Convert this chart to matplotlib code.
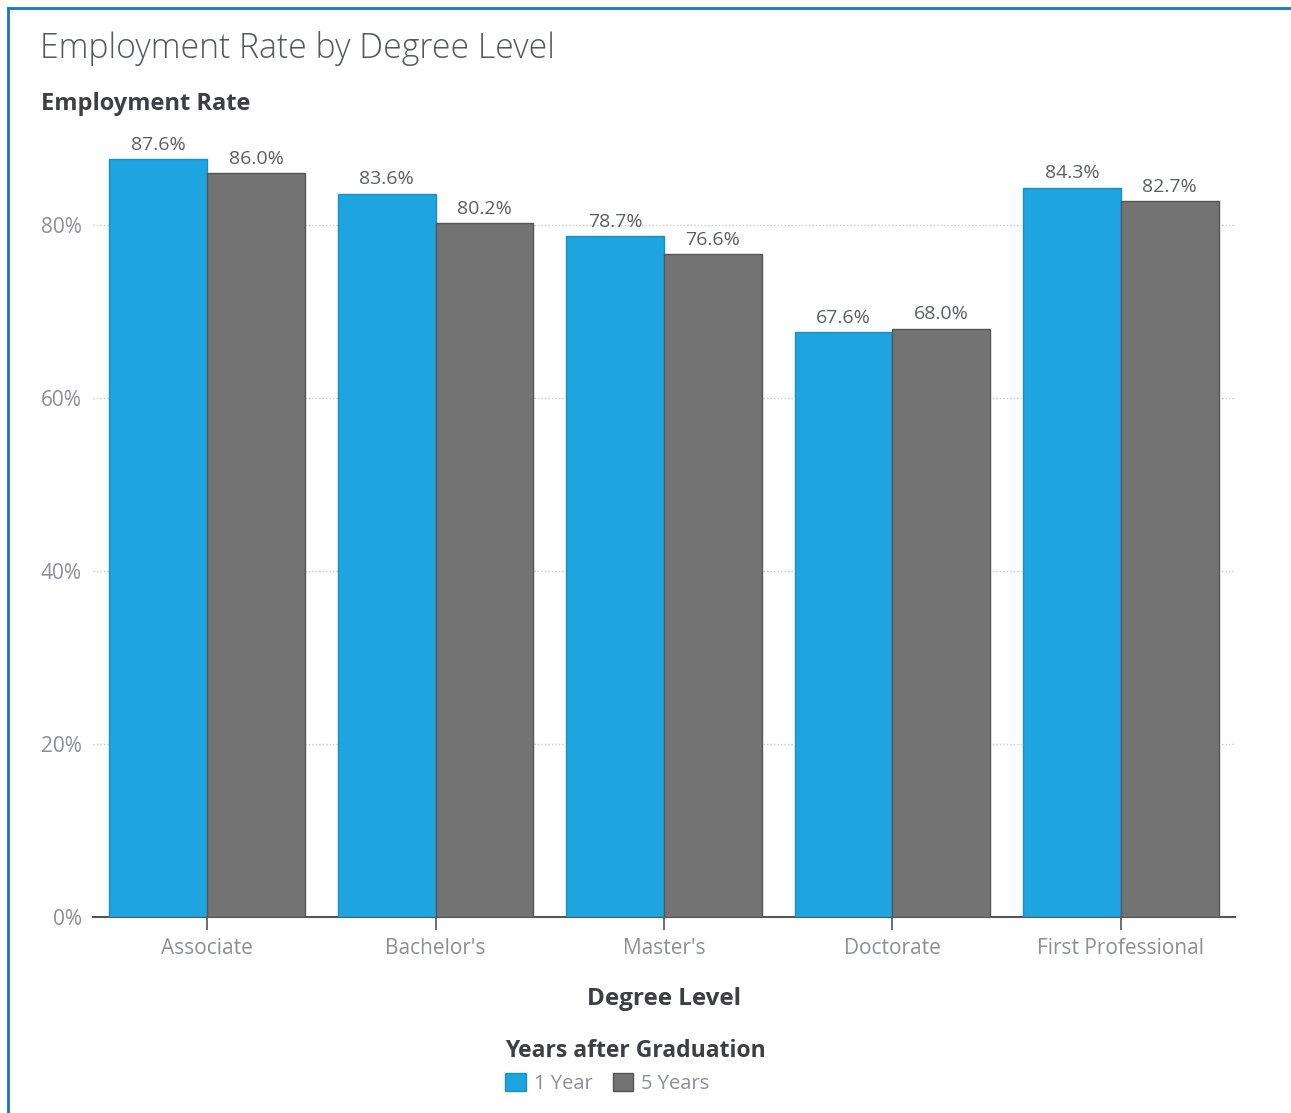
import numpy as np
import matplotlib.pyplot as plt
from matplotlib.lines import Line2D
from matplotlib.patches import Patch

# Employment rate (%) by degree level, 1 and 5 years after graduation
degrees = ["Associate", "Bachelor's", "Master's", "Doctorate", "First Professional"]
one_year = [87.6, 83.6, 78.7, 67.6, 84.3]
five_years = [86.0, 80.2, 76.6, 68.0, 82.7]

BLUE = "#1ea4de"
GRAY = "#737373"
TEXT = "#5a5f66"
TICK = "#8a8f99"

plt.rcParams["font.family"] = ["Open Sans", "DejaVu Sans"]

fig = plt.figure(figsize=(12.91, 11.13), dpi=100)
ax = fig.add_axes([0.072, 0.1761, 0.8846, 0.7152])

x = np.arange(len(degrees))
w = 0.428
b1 = ax.bar(x - w / 2, one_year, w, color=BLUE, edgecolor="#1890c4", linewidth=1, zorder=3)
b2 = ax.bar(x + w / 2, five_years, w, color=GRAY, edgecolor="#555555", linewidth=1, zorder=3)

for bars, vals in ((b1, one_year), (b2, five_years)):
    for r, v in zip(bars, vals):
        ax.text(r.get_x() + r.get_width() / 2, v + 0.6, f"{v:.1f}%",
                ha="center", va="bottom", fontsize=14, color=TEXT)

ax.set_xlim(-0.5, 4.5)
ax.set_ylim(0, 92)
ax.set_yticks([0, 20, 40, 60, 80])
ax.set_yticklabels([f"{t}%" for t in [0, 20, 40, 60, 80]])
ax.set_xticks(x)
ax.set_xticklabels(degrees)
ax.tick_params(axis="y", length=0, pad=8, labelsize=15, labelcolor=TICK)
ax.tick_params(axis="x", length=9, width=1.2, color="#555555", pad=6,
               labelsize=15, labelcolor=TICK)
ax.yaxis.grid(True, linestyle=(0, (1, 1.5)), color="#c8c8c8", linewidth=1, zorder=0)
for s in ("top", "right", "left"):
    ax.spines[s].set_visible(False)
ax.spines["bottom"].set_color("#555555")
ax.spines["bottom"].set_linewidth(1.5)

ax.set_xlabel("Degree Level", fontsize=17.5, fontweight="bold", color="#3c3f44", labelpad=20)

fig.text(0.031, 0.956, "Employment Rate by Degree Level", fontsize=24.3, fontweight="light",
         color="#55585d", ha="left", va="center")
fig.text(0.032, 0.907, "Employment Rate", fontsize=17, fontweight="bold",
         color="#3c3f44", ha="left", va="center")

handles = [Patch(facecolor=BLUE, edgecolor="#1890c4"), Patch(facecolor=GRAY, edgecolor="#555555")]
leg = fig.legend(handles, ["1 Year", "5 Years"], loc="center", bbox_to_anchor=(0.4925, 0.042),
                 ncol=2, frameon=False, fontsize=14.5, handlelength=1.0, handleheight=1.0,
                 handletextpad=0.4, columnspacing=1.0, labelcolor=TICK,
                 title="Years after Graduation",
                 title_fontproperties={"size": 16.5, "weight": "bold"})
leg.get_title().set_color("#3c3f44")
leg._legend_box.align = "left"

# panel border on the left and top
fig.add_artist(Line2D([0.0062, 0.0062], [0, 0.9928], color="#1a76c4", linewidth=2))
fig.add_artist(Line2D([0.0062, 1.0], [0.9928, 0.9928], color="#1a76c4", linewidth=2))

fig.savefig("out.png", dpi=100)
